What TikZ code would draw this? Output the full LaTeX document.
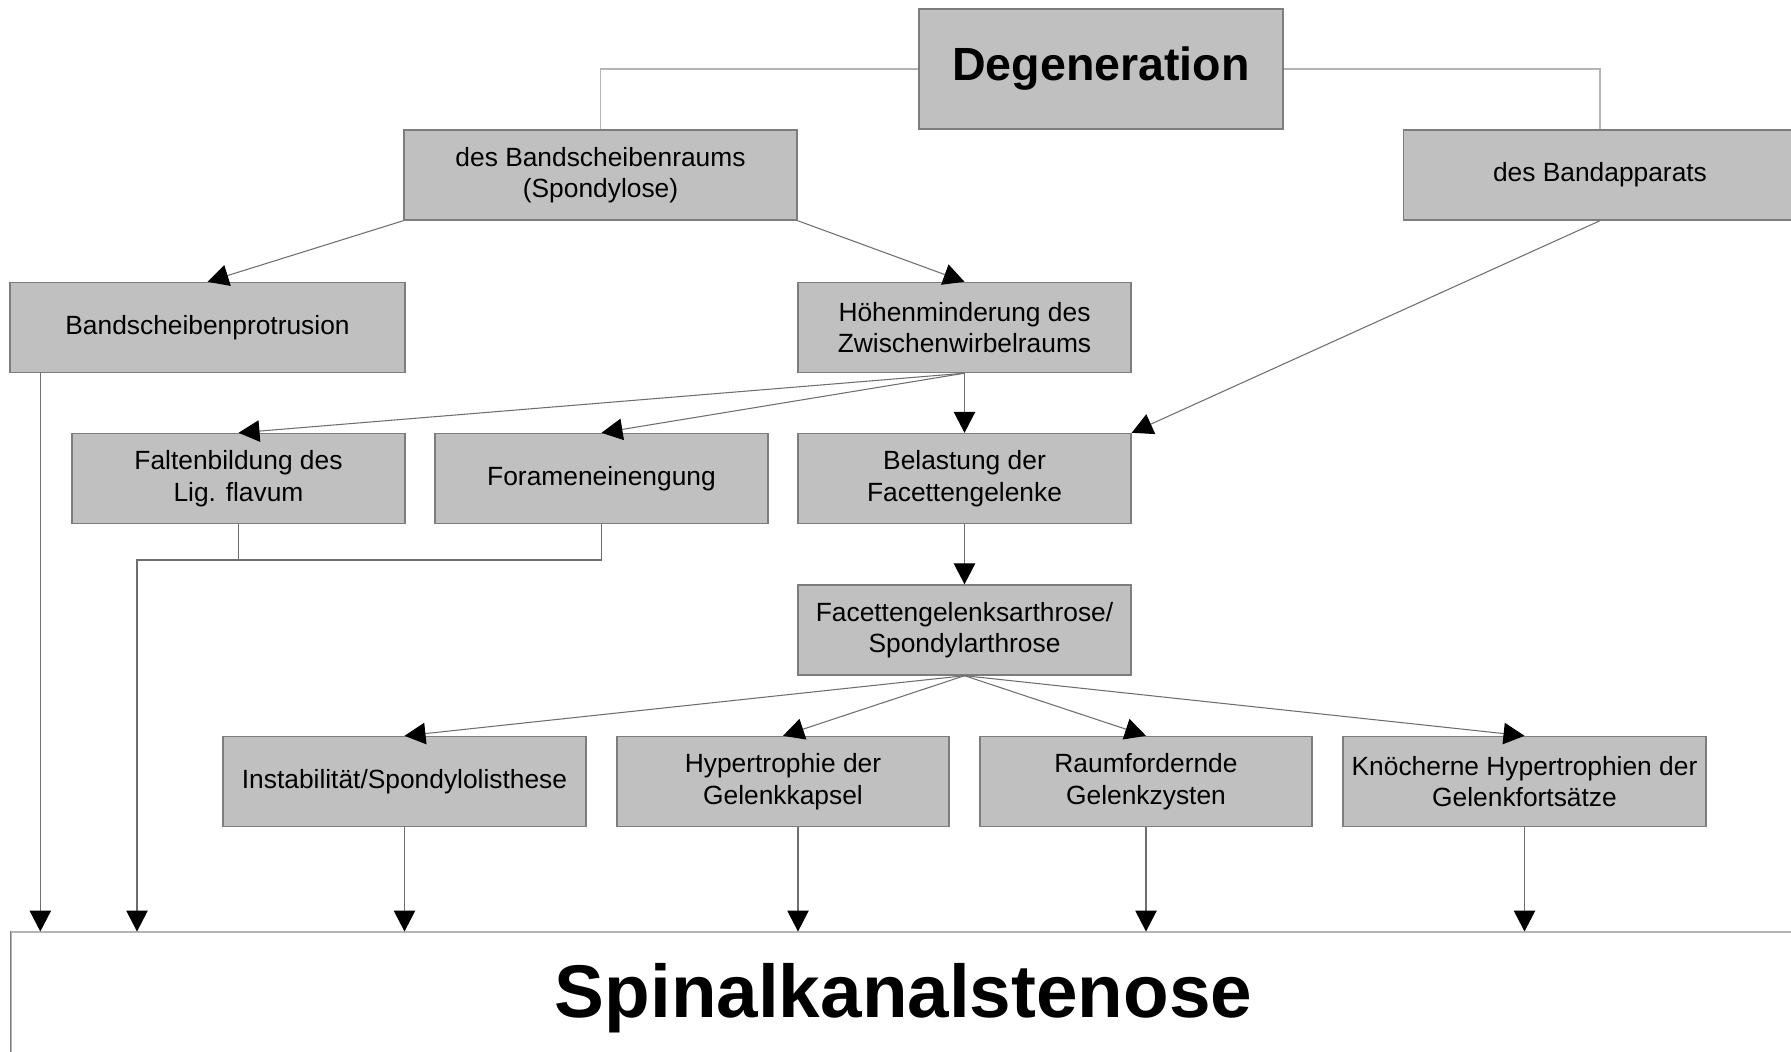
\documentclass[tikz,border=0pt]{standalone}
\usepackage{fontspec}
\setmainfont{Liberation Sans}
\usepackage{xcolor}
\usetikzlibrary{arrows.meta}
\definecolor{kastengrau}{RGB}{192,192,192}
\definecolor{randgrau}{RGB}{125,125,125}
\definecolor{liniengrau}{RGB}{110,110,110}
\definecolor{hellgrau}{RGB}{180,180,180}

\begin{document}
\begin{tikzpicture}[x=0.02cm, y=-0.02cm,
		>={Triangle[length=0.42cm, width=0.43cm, color=black]},
		kasten/.style={draw=randgrau, line width=0.8pt, fill=kastengrau, align=center, inner sep=0pt, minimum height=1.8cm, font=\fontsize{15}{18}\selectfont},
		linie/.style={draw=liniengrau, line width=0.6pt},
		pfeil/.style={linie, ->}]
		\useasboundingbox (0,0) rectangle (1791,1051);
		%
		%Degeneration
		\node[kasten, minimum width=7.28cm, minimum height=2.4cm, font=\fontsize{26.5}{30}\selectfont\bfseries] (degen) at (1101,69) {Degeneration};
		%
		%zweite Ebene
		\node[kasten, minimum width=7.86cm] (bsraum) at (600.5,175) {des Bandscheibenraums\\(Spondylose)};
		\node[kasten, minimum width=7.86cm] (bandapp) at (1600,175) {des Bandapparats};
		\draw[linie, draw=hellgrau] (degen.west) -| (bsraum.north);
		\draw[linie, draw=hellgrau] (degen.east) -| (bandapp.north);
		%
		%dritte Ebene
		\node[kasten, minimum width=7.9cm] (protru) at (207.5,327.5) {Bandscheibenprotrusion};
		\node[kasten, minimum width=6.66cm] (hoehe) at (964.5,327.5) {Höhenminderung des\\Zwischenwirbelraums};
		\draw[pfeil] (bsraum.south west) -- (protru.north);
		\draw[pfeil] (bsraum.south east) -- (hoehe.north);
		%
		%vierte Ebene
		\node[kasten, minimum width=6.66cm] (falten) at (238.5,478.5) {Faltenbildung des\\Lig. flavum};
		\node[kasten, minimum width=6.66cm] (foramen) at (601.5,478.5) {Forameneinengung};
		\node[kasten, minimum width=6.66cm] (belast) at (964.5,478.5) {Belastung der\\Facettengelenke};
		\foreach \ziel in {falten, foramen, belast}
			\draw[pfeil] (hoehe.south) -- (\ziel.north);
		\draw[pfeil] (bandapp.south) -- (belast.north east);
		%
		%Arthrose
		\node[kasten, minimum width=6.66cm] (facett) at (964.5,630) {Facettengelenksarthrose/\\Spondylarthrose};
		\draw[pfeil] (belast.south) -- (facett.north);
		%
		%Folgen der Arthrose
		\node[kasten, minimum width=7.26cm] (instab) at (404.5,781.5) {Instabilität/Spondylolisthese};
		\node[kasten, minimum width=6.64cm] (hyper) at (783,781.5) {Hypertrophie der\\Gelenkkapsel};
		\node[kasten, minimum width=6.64cm] (raum) at (1146,781.5) {Raumfordernde\\Gelenkzysten};
		\node[kasten, minimum width=7.26cm] (knoch) at (1524.5,781.5) {Knöcherne Hypertrophien der\\Gelenkfortsätze};
		\foreach \ziel in {instab, hyper, raum, knoch}
			\draw[pfeil] (facett.south) -- (\ziel.north);
		%
		%Spinalkanalstenose
		\node[draw=hellgrau, line width=0.6pt, fill=white, minimum width=35.7cm, minimum height=2.64cm, inner sep=0pt, font=\fontsize{42.5}{50}\selectfont\bfseries] (spinal) at (903.5,998) {Spinalkanalstenose};
		\draw[linie, draw=randgrau] (spinal.north west) -- (spinal.south west);
		%
		%Pfeile zur Stenose
		\coordinate (protru-aus) at ([xshift=0.62cm]protru.south west);
		\coordinate (hyper-aus) at ([xshift=0.3cm]hyper.south);
		\coordinate (sammel) at (137,560);
		\draw[pfeil] (protru-aus) -- (protru-aus |- spinal.north);
		\draw[linie] (falten.south) -- (falten.south |- sammel);
		\draw[pfeil] (foramen.south) |- (sammel) -- (sammel |- spinal.north);
		\draw[pfeil] (hyper-aus) -- (hyper-aus |- spinal.north);
		\foreach \quelle in {instab, raum, knoch}
			\draw[pfeil] (\quelle.south) -- (\quelle.south |- spinal.north);
	\end{tikzpicture}
\end{document}
